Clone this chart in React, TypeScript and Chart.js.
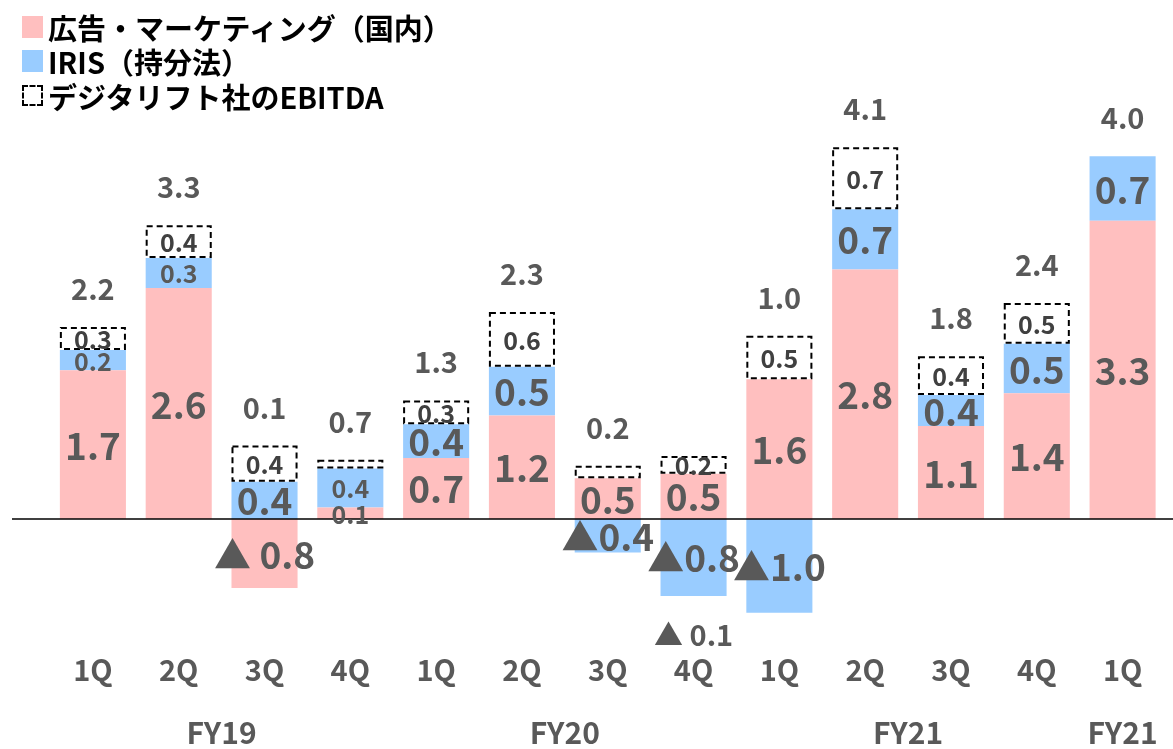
import React, { useEffect, useRef } from "react";
import { Chart, registerables } from "chart.js";

Chart.register(...registerables);

// ---- data ----
const quarters = ["1Q", "2Q", "3Q", "4Q", "1Q", "2Q", "3Q", "4Q", "1Q", "2Q", "3Q", "4Q", "1Q"];
const fiscalYears = ["FY19", "FY20", "FY21", "FY21"];
const fiscalFirst = [0, 4, 8, 12];
const fiscalLast = [3, 7, 11, 12];

// 広告・マーケティング（国内）
const adValues = [1.68, 2.61, -0.78, 0.13, 0.69, 1.17, 0.46, 0.51, 1.58, 2.82, 1.05, 1.42, 3.37];
const adLabels = ["1.7", "2.6", "▲ 0.8", "0.1", "0.7", "1.2", "0.5", "0.5", "1.6", "2.8", "1.1", "1.4", "3.3"];
// IRIS（持分法）
const irisValues = [0.23, 0.34, 0.42, 0.44, 0.38, 0.55, -0.38, -0.87, -1.06, 0.68, 0.35, 0.56, 0.73];
const irisLabels = ["0.2", "0.3", "0.4", "0.4", "0.4", "0.5", "▲0.4", "▲0.8", "▲1.0", "0.7", "0.4", "0.5", "0.7"];
// デジタリフト社のEBITDA
const ebitdaValues = [0.26, 0.37, 0.41, 0.1, 0.27, 0.62, 0.14, 0.2, 0.49, 0.7, 0.44, 0.46, null];
const ebitdaLabels = ["0.3", "0.4", "0.4", "", "0.3", "0.6", "", "0.2", "0.5", "0.7", "0.4", "0.5", ""];
// 合計
const totalLabels = ["2.2", "3.3", "0.1", "0.7", "1.3", "2.3", "0.2", "▲ 0.1", "1.0", "4.1", "1.8", "2.4", "4.0"];

const legendItems = ["広告・マーケティング（国内）", "IRIS（持分法）", "デジタリフト社のEBITDA"];

// ---- styles ----
const FONT = '"Noto Sans CJK JP", "Noto Sans", sans-serif';
const PINK = "#FFBFBF";
const BLUE = "#99CCFF";
const GRAY = "#595959";
const smallAd = [3];
const smallIris = [0, 1, 3];

const labelPlugin = {
  id: "customLabels",
  afterDatasetsDraw(chart: any) {
    const ctx = chart.ctx as CanvasRenderingContext2D;
    const xs = chart.scales.x;
    const ys = chart.scales.y;
    const y0 = ys.getPixelForValue(0);
    ctx.save();

    // dashed EBITDA boxes
    const boxMeta = chart.getDatasetMeta(2);
    boxMeta.data.forEach((el: any, i: number) => {
      if (ebitdaValues[i] == null) return;
      const p = el.getProps(["x", "y", "base", "width"], true);
      const top = Math.min(p.y, p.base);
      const h = Math.abs(p.base - p.y);
      ctx.setLineDash([6, 4]);
      ctx.lineWidth = 2;
      ctx.strokeStyle = "#000";
      ctx.strokeRect(p.x - p.width / 2 + 1, top + 1, p.width - 2, h - 2);
      const t = ebitdaLabels[i];
      if (t) {
        ctx.fillStyle = "#404040";
        ctx.font = `bold 25px ${FONT}`;
        ctx.textAlign = "center";
        ctx.textBaseline = "middle";
        ctx.fillText(t, p.x, top + h / 2 + 1);
      }
    });
    ctx.setLineDash([]);

    // zero line
    ctx.strokeStyle = "#000";
    ctx.lineWidth = 1.5;
    ctx.beginPath();
    ctx.moveTo(12, y0);
    ctx.lineTo(chart.width, y0);
    ctx.stroke();

    // segment labels
    const drawSeg = (dsIndex: number, labels: string[], small: number[]) => {
      const meta = chart.getDatasetMeta(dsIndex);
      meta.data.forEach((el: any, i: number) => {
        const t = labels[i];
        if (!t) return;
        const p = el.getProps(["x", "y", "base"], true);
        ctx.fillStyle = GRAY;
        ctx.font = `bold ${small.includes(i) ? 25 : 37}px ${FONT}`;
        ctx.textAlign = "center";
        ctx.textBaseline = "middle";
        ctx.fillText(t, p.x, (p.y + p.base) / 2 + 1);
      });
    };
    drawSeg(0, adLabels, smallAd);
    drawSeg(1, irisLabels, smallIris);

    // totals
    quarters.forEach((_, i) => {
      let top = y0;
      let bottom = y0;
      let sum = 0;
      [adValues, irisValues, ebitdaValues].forEach((arr, d) => {
        const v = arr[i];
        if (v == null) return;
        sum += v;
        const el: any = chart.getDatasetMeta(d).data[i];
        const p = el.getProps(["y", "base"], true);
        top = Math.min(top, p.y, p.base);
        bottom = Math.max(bottom, p.y, p.base);
      });
      const cx = xs.getPixelForValue(i);
      ctx.fillStyle = GRAY;
      ctx.font = `bold 29px ${FONT}`;
      ctx.textAlign = "center";
      ctx.textBaseline = "middle";
      ctx.fillText(totalLabels[i], cx, sum < 0 ? bottom + 39 : top - 38);
    });

    // quarter ticks
    ctx.font = `bold 29px ${FONT}`;
    quarters.forEach((q, i) => {
      ctx.fillText(q, xs.getPixelForValue(i), 670);
    });
    // fiscal year groups
    ctx.font = `bold 30px ${FONT}`;
    fiscalYears.forEach((fy, g) => {
      const cx = (xs.getPixelForValue(fiscalFirst[g]) + xs.getPixelForValue(fiscalLast[g])) / 2;
      ctx.fillText(fy, cx, 733);
    });
    ctx.restore();
  },
};

export default function App() {
  const ref = useRef<HTMLCanvasElement>(null);
  useEffect(() => {
    if (!ref.current) return;
    const chart = new Chart(ref.current, {
      type: "bar",
      data: {
        labels: quarters,
        datasets: [
          { label: legendItems[0], data: adValues, backgroundColor: PINK, stack: "s" },
          { label: legendItems[1], data: irisValues, backgroundColor: BLUE, stack: "s" },
          { label: legendItems[2], data: ebitdaValues as any, backgroundColor: "rgba(255,255,255,0)", stack: "s" },
        ],
      },
      options: {
        responsive: true,
        maintainAspectRatio: false,
        animation: false,
        layout: { padding: { left: 50, right: 7.5, top: 0, bottom: 0 } },
        datasets: { bar: { categoryPercentage: 1, barPercentage: 0.77 } },
        plugins: { legend: { display: false }, tooltip: { enabled: false } },
        scales: {
          x: { display: false, stacked: true },
          y: { display: false, stacked: true, min: -2.6, max: 5.865 },
        },
      },
      plugins: [labelPlugin],
    });
    return () => chart.destroy();
  }, []);

  const legendColors = [PINK, BLUE, null];
  const rowCenters = [27, 61, 96];
  return (
    <div style={{ position: "absolute", left: 0, top: 0, width: 1173, height: 749, background: "#fff" }}>
      <canvas ref={ref} />
      {legendItems.map((t, i) => (
        <React.Fragment key={i}>
          <div
            style={{
              position: "absolute",
              left: 22,
              top: rowCenters[i] - 11,
              width: legendColors[i] ? 21 : 17,
              height: legendColors[i] ? 22 : 17,
              background: legendColors[i] || "transparent",
              border: legendColors[i] ? "none" : "2px dashed #000",
            }}
          />
          <div
            style={{
              position: "absolute",
              left: 48,
              top: rowCenters[i] - 17,
              height: 34,
              lineHeight: "34px",
              fontFamily: FONT,
              fontWeight: "bold",
              fontSize: 29,
              color: "#000",
              whiteSpace: "nowrap",
            }}
          >
            {t}
          </div>
        </React.Fragment>
      ))}
    </div>
  );
}
